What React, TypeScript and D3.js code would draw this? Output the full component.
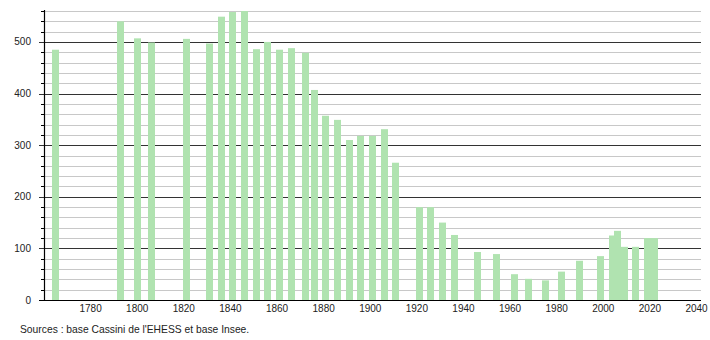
import React from "react";
import * as d3 from "d3";

const years = [1765, 1793, 1800, 1806, 1821, 1831, 1836, 1841, 1846, 1851, 1856, 1861, 1866, 1872, 1876, 1881, 1886, 1891, 1896, 1901, 1906, 1911, 1921, 1926, 1931, 1936, 1946, 1954, 1962, 1968, 1975, 1982, 1990, 1999, 2004, 2006, 2009, 2014, 2019, 2022];
const population = [485, 540, 507, 499, 506, 497, 549, 558, 562, 486, 500, 485, 488, 479, 407, 357, 349, 310, 318, 318, 331, 266, 180, 180, 150, 126, 93, 89, 50, 41, 38, 55, 76, 85, 125, 134, 103, 103, 120, 120];
const xTicks = [1780, 1800, 1820, 1840, 1860, 1880, 1900, 1920, 1940, 1960, 1980, 2000, 2020, 2040];
const yTicks = [0, 100, 200, 300, 400, 500];
const sourceText = "Sources : base Cassini de l'EHESS et base Insee.";

const W = 710;
const H = 340;
const FONT = "'Liberation Sans', Arial, sans-serif";

export default function App() {
  const x = d3.scaleLinear().domain([1760, 2040]).range([44, 696.5]);
  const y = d3.scaleLinear().domain([0, 560]).range([300, 11]);
  const minor = d3.range(20, 561, 20).filter((v) => v % 100 !== 0);
  const barW = x(1763) - x(1760);
  const clip = (v: number) => Math.min(v, 560);

  return (
    <div style={{ position: "absolute", left: 0, top: 0 }}>
      <svg width={W} height={H} style={{ display: "block", background: "#fff" }}>
        {minor.map((v) => (
          <g key={"m" + v}>
            <line x1={44} x2={701} y1={Math.round(y(v)) + 0.5} y2={Math.round(y(v)) + 0.5} stroke="#c8c8c8" strokeWidth={1} />
            <line x1={41} x2={44} y1={Math.round(y(v)) + 0.5} y2={Math.round(y(v)) + 0.5} stroke="#000" strokeWidth={1} />
          </g>
        ))}
        {yTicks.filter((v) => v > 0).map((v) => (
          <line key={"M" + v} x1={39} x2={701} y1={Math.round(y(v)) + 0.5} y2={Math.round(y(v)) + 0.5} stroke="#333" strokeWidth={1} />
        ))}
        {years.map((yr, i) => (
          <rect
            key={yr}
            x={Math.round(x(yr) - barW / 2)}
            y={y(clip(population[i]))}
            width={Math.round(barW)}
            height={y(0) - y(clip(population[i]))}
            fill="#b0e3b0"
          />
        ))}
        <line x1={44.5} x2={44.5} y1={10} y2={300} stroke="#000" strokeWidth={1.2} />
        <line x1={39} x2={701} y1={300.5} y2={300.5} stroke="#000" strokeWidth={1.2} />
        {yTicks.map((v) => (
          <text key={"yl" + v} x={31} y={y(v)} dy="0.35em" textAnchor="end" fontFamily={FONT} fontSize={10} fill="#222">
            {v}
          </text>
        ))}
        {xTicks.map((t) => (
          <text key={"xl" + t} x={x(t)} y={312} textAnchor="middle" fontFamily={FONT} fontSize={10} fill="#222">
            {t}
          </text>
        ))}
        <text x={20} y={333} fontFamily={FONT} fontSize={10.3} fill="#222">
          {sourceText}
        </text>
      </svg>
    </div>
  );
}
